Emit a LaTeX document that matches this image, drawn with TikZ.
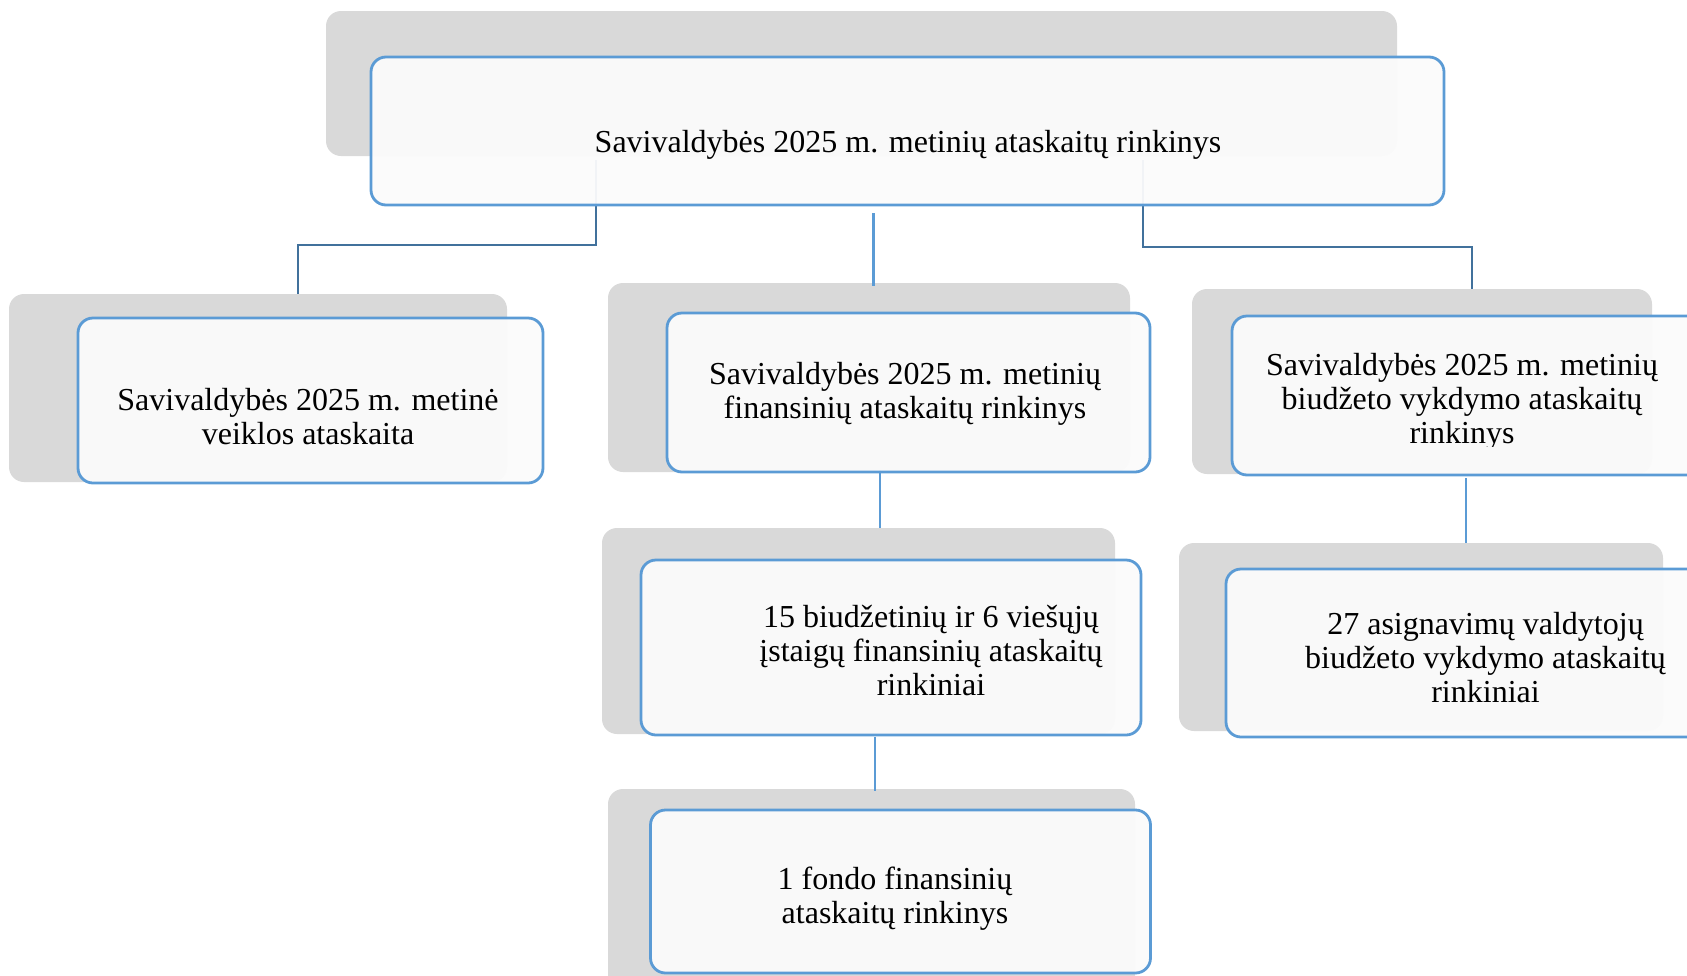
\documentclass[tikz,border=0pt]{standalone}
\usepackage{fontspec}
\setmainfont{Liberation Serif}
\usepackage{tikz}
\definecolor{cardgray}{RGB}{217,217,217}
\definecolor{boxblue}{RGB}{91,155,213}
\definecolor{boxfill}{RGB}{251,251,251}
\definecolor{elbowblue}{RGB}{65,113,156}
\definecolor{linkblue}{RGB}{91,155,213}
\tikzset{
  card/.style={fill=cardgray, rounded corners=15pt},
  box/.style={draw=boxblue, line width=2.8pt, fill=boxfill, fill opacity=0.95, rounded corners=15pt, inner sep=0pt},
  txt/.style={font=\fontsize{32}{34}\selectfont, align=center, inner sep=0pt},
  elbow/.style={draw=elbowblue, line width=2.6pt},
  link/.style={draw=linkblue, line width=2.6pt},
}
\begin{document}
\begin{tikzpicture}[x=1pt,y=-1pt]
\clip (0,0) rectangle (1687,975);
% grey cards behind the boxes
\foreach \xa/\ya/\xb/\yb in {326/11/1397/156, 9/294/507/482, 608/283/1130/472, 602/528/1115/734, 608/789/1135/1000, 1192/289/1652/474, 1179/543/1663/731}
	\fill[card] (\xa,\ya) rectangle (\xb,\yb);
% connector ends
\coordinate (rinkL) at (596,160);
\coordinate (rinkM) at (873.5,213);
\coordinate (rinkR) at (1143,160);
\coordinate (veikTop) at (298,294);
\coordinate (finTop) at (873.5,286);
\coordinate (budTop) at (1472,289);
\coordinate (finBot) at (880,470);
\coordinate (istTop) at (880,528);
\coordinate (istBot) at (875,737);
\coordinate (fondTop) at (875,791);
\coordinate (budBot) at (1466,478);
\coordinate (asgTop) at (1466,543);
\draw[elbow] (rinkL) -- ++(0,85) -| (veikTop);
\draw[elbow] (rinkR) -- ++(0,87) -| (budTop);
\draw[link] (rinkM) -- (finTop);
\draw[link] (finBot) -- (istTop);
\draw[link] (istBot) -- (fondTop);
\draw[link] (budBot) -- (asgTop);
% boxes
\node[box, minimum width=1073pt, minimum height=148pt] (rink) at (907.5,131) {};
\node[box, minimum width=465pt, minimum height=165pt] (veik) at (310.5,400.5) {};
\node[box, minimum width=483pt, minimum height=159pt] (fin) at (908.5,392.5) {};
\node[box, minimum width=500pt, minimum height=175pt] (ist) at (891,647.5) {};
\node[box, minimum width=500pt, minimum height=163pt] (fond) at (900.5,891.5) {};
\node[box, minimum width=480pt, minimum height=159pt] (bud) at (1472,395.5) {};
\node[box, minimum width=480pt, minimum height=168pt] (asg) at (1466,653) {};
% texts
\node[txt] (rinkT) at (908,145) {Savivaldybės 2025 m. metinių ataskaitų rinkinys};
\node[txt] (veikT) at (308,417) {Savivaldybės 2025 m. metinė\\veiklos ataskaita};
\node[txt] (finT) at (905,394) {Savivaldybės 2025 m. metinių\\finansinių ataskaitų rinkinys};
\node[txt] (istT) at (931,651) {15 biudžetinių ir 6 viešųjų\\įstaigų finansinių ataskaitų\\rinkiniai};
\node[txt] (fondT) at (895,899) {1 fondo finansinių\\ataskaitų rinkinys};
\begin{scope}
\clip (1232,316) rectangle (1687,446);
\node[txt] (budT) at (1462,402) {Savivaldybės 2025 m. metinių\\biudžeto vykdymo ataskaitų\\rinkinys};
\end{scope}
\node[txt] (asgT) at (1485.5,657.5) {27 asignavimų valdytojų\\biudžeto vykdymo ataskaitų\\rinkiniai};
\end{tikzpicture}
\end{document}
